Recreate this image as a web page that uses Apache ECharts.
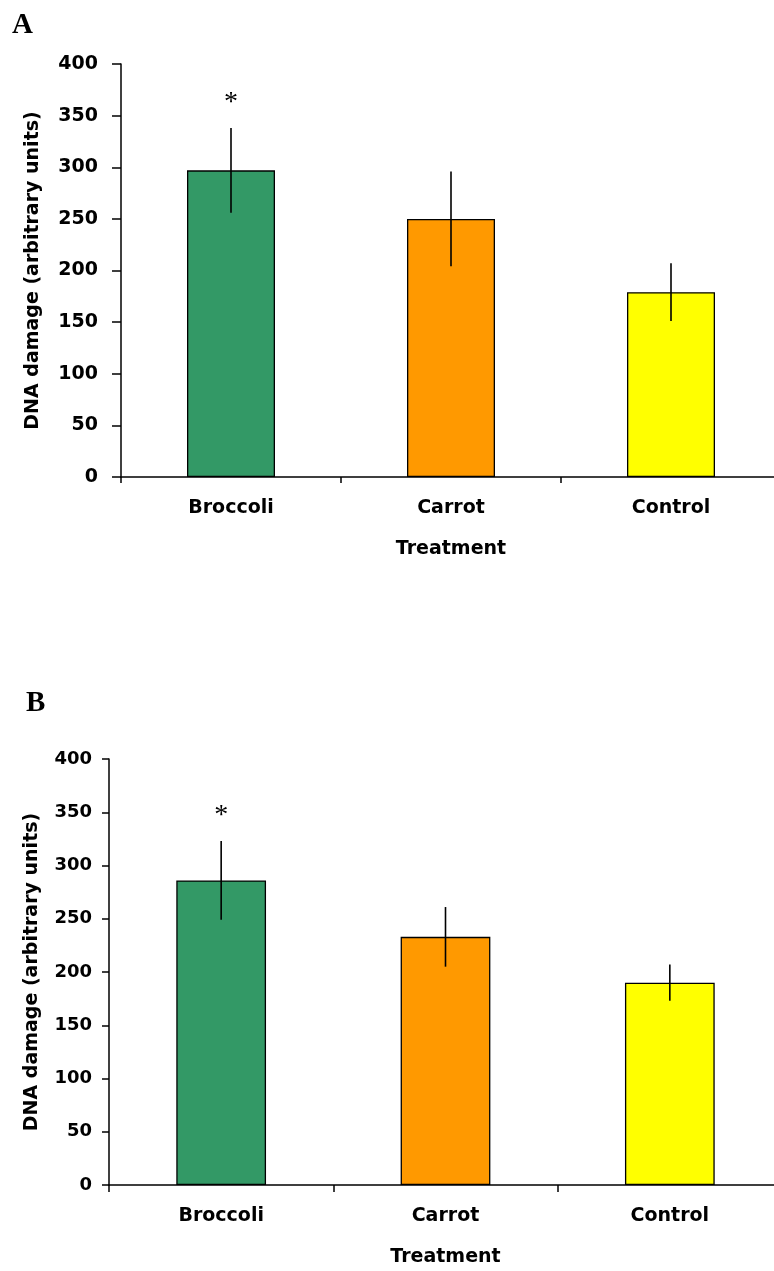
<!DOCTYPE html>
<html>
<head>
<meta charset="utf-8">
<script src="https://cdn.jsdelivr.net/npm/echarts@6/dist/echarts.min.js"></script>
<style>
  html, body { margin: 0; padding: 0; background: #fff; }
  #chart { width: 774px; height: 1271px; }
</style>
</head>
<body>
<div id="chart"></div>
<script>
// ---- data ----
const categories = ['Broccoli', 'Carrot', 'Control'];
const barColors = ['#339966', '#FF9900', '#FFFF00'];
const meanA = [297, 250, 179];
const errA  = [41, 46, 28];
const sigA  = ['*', '', ''];
const meanB = [286, 233, 190];
const errB  = [37, 28, 17];
const sigB  = ['*', '', ''];
const yMin = 0, yMax = 400, yInterval = 50;
const panelLabels = ['A', 'B'];
const xTitle = 'Treatment';
const yTitle = 'DNA damage (arbitrary units)';

// ---- helpers ----
const FONT = 'DejaVu Sans';
const errSig = {};
function barData(means) {
  return means.map((v, i) => ({ value: v, itemStyle: { color: barColors[i] } }));
}
function errData(means, errs) {
  return means.map((m, i) => [i, m - errs[i], m + errs[i]]);
}
function renderErr(params, api) {
  const x = api.value(0);
  const lo = api.coord([x, api.value(1)]);
  const hi = api.coord([x, api.value(2)]);
  const sig = (errSig[params.seriesIndex] || [])[params.dataIndex];
  const children = [{
    type: 'line',
    shape: { x1: hi[0], y1: hi[1], x2: lo[0], y2: lo[1] },
    style: { stroke: '#000', lineWidth: 1.6 }
  }];
  if (sig) {
    children.push({
      type: 'text',
      x: hi[0], y: hi[1] - 25,
      style: {
        text: sig, fill: '#000',
        font: '28px "Liberation Serif"',
        align: 'center', verticalAlign: 'middle'
      }
    });
  }
  return { type: 'group', children };
}

function xAxisCfg(gridIndex, tickLen) {
  return {
    type: 'category', gridIndex, data: categories,
    name: xTitle, nameLocation: 'middle', nameGap: 63,
    nameTextStyle: { fontFamily: FONT, fontWeight: 'bold', fontSize: 19, color: '#000' },
    axisLine: { lineStyle: { color: '#000', width: 1.5 } },
    axisTick: { show: true, length: tickLen, lineStyle: { color: '#000', width: 1.5 } },
    axisLabel: { fontFamily: FONT, fontWeight: 'bold', fontSize: 19, color: '#000', margin: 22 },
    splitLine: { show: false }
  };
}
function yAxisCfg(gridIndex, tickLen, labelSize, margin, nameGap) {
  return {
    type: 'value', gridIndex, min: yMin, max: yMax, interval: yInterval,
    name: yTitle, nameLocation: 'middle', nameGap, nameRotate: 90,
    nameTextStyle: { fontFamily: FONT, fontWeight: 'bold', fontSize: 19, color: '#000' },
    axisLine: { show: true, lineStyle: { color: '#000', width: 1.5 } },
    axisTick: { show: true, length: tickLen, lineStyle: { color: '#000', width: 1.5 } },
    axisLabel: { fontFamily: FONT, fontWeight: 'bold', fontSize: labelSize, color: '#000', margin },
    splitLine: { show: false }
  };
}

const option = {
  animation: false,
  backgroundColor: '#fff',
  title: [
    { text: panelLabels[0], left: 7, top: 6,
      textStyle: { fontFamily: 'Liberation Serif', fontWeight: 'bold', fontSize: 29, color: '#000' } },
    { text: panelLabels[1], left: 21, top: 684,
      textStyle: { fontFamily: 'Liberation Serif', fontWeight: 'bold', fontSize: 29, color: '#000' } }
  ],
  grid: [
    { left: 121, top: 64, width: 660, height: 413, outerBoundsMode: 'none', containLabel: false },
    { left: 109, top: 759, width: 673, height: 426, outerBoundsMode: 'none', containLabel: false }
  ],
  xAxis: [xAxisCfg(0, 6), xAxisCfg(1, 7)],
  yAxis: [yAxisCfg(0, 9, 19, 23, 78), yAxisCfg(1, 7, 18, 17, 67)],
  series: [
    { type: 'bar', xAxisIndex: 0, yAxisIndex: 0, data: barData(meanA), barWidth: '40%',
      itemStyle: { borderColor: '#000', borderWidth: 1.3 } },
    { type: 'bar', xAxisIndex: 1, yAxisIndex: 1, data: barData(meanB), barWidth: '40%',
      itemStyle: { borderColor: '#000', borderWidth: 1.3 } },
    { type: 'custom', xAxisIndex: 0, yAxisIndex: 0, data: errData(meanA, errA),
      renderItem: renderErr, z: 5, encode: { x: 0, y: [1, 2] } },
    { type: 'custom', xAxisIndex: 1, yAxisIndex: 1, data: errData(meanB, errB),
      renderItem: renderErr, z: 5, encode: { x: 0, y: [1, 2] } }
  ]
};
errSig[2] = sigA;
errSig[3] = sigB;

const chart = echarts.init(document.getElementById('chart'), null, { renderer: 'canvas' });
chart.setOption(option);
</script>
</body>
</html>
